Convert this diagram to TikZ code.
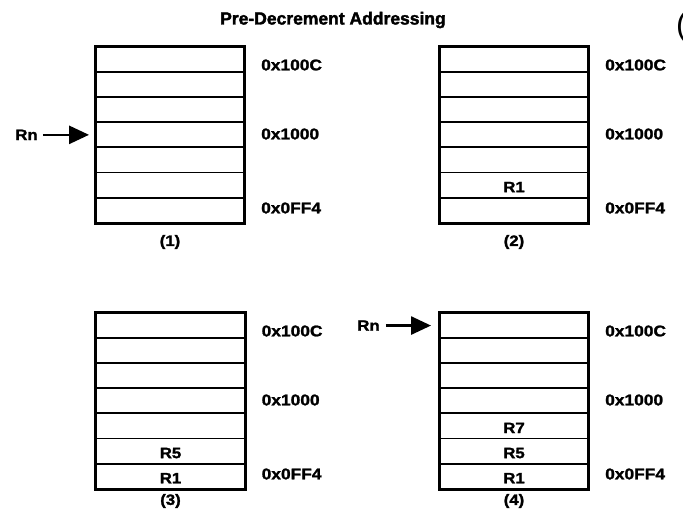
\documentclass[tikz,border=0pt]{standalone}
\usepackage{fontspec}
\setmainfont{Liberation Sans}
\newfontfamily\labfont[FakeStretch=1.12,FakeBold=1.6]{Liberation Sans Bold}
\newfontfamily\headfont[FakeBold=2]{Liberation Sans Bold}
\usetikzlibrary{arrows.meta}

\begin{document}
\begin{tikzpicture}[x=1pt,y=-1pt,
    cell/.style={draw, line width=1.9pt, minimum width=148pt, minimum height=25.1pt,
                 inner sep=0pt},
    frame/.style={draw, line width=2.7pt},
    word/.style={inner sep=0pt, font=\labfont\fontsize{15}{15}\selectfont},
    addr/.style={anchor=west, inner sep=0pt, font=\labfont\fontsize{15.5}{15.5}\selectfont},
    caption/.style={inner sep=0pt, font=\labfont\fontsize{15}{15}\selectfont},
    ptrlabel/.style={inner sep=0pt, font=\labfont\fontsize{15}{15}\selectfont},
    ptr/.style={line width=2.7pt, -{Triangle[length=20pt,width=18pt]}}]

\useasboundingbox (0,0) rectangle (683,520);

% heading
\node[inner sep=0pt, font=\headfont\fontsize{17.5}{17.5}\selectfont] (title) at (333,20) {Pre-Decrement Addressing};
\node[anchor=base west, inner sep=0pt, font=\fontsize{32}{32}\selectfont] (edge) at (676,35.4) {(};

% a stack of seven memory words: #1 name prefix, #2 left x, #3 top y
\newcommand\memstack[3]{%
  \foreach \i in {1,...,7}{
    \node[cell] (#1r\i) at ({#2+74},{#3+(\i-0.5)*25.1}) {};
  }
  \draw[frame] (#1r1.north west) rectangle (#1r7.south east);
  \node[addr] (#1a1) at ({#2+165},{#3+18}) {0x100C};
  \node[addr] (#1a2) at ({#2+165},{#3+87}) {0x1000};
  \node[addr] (#1a3) at ({#2+165},{#3+161}) {0x0FF4};
}

\memstack{p1}{96}{47}
\memstack{p2}{440}{47}
\memstack{p3}{96.5}{313}
\memstack{p4}{440}{313}

% stored registers
\node[word] (p2v6) at ([yshift=-2pt]p2r6) {R1};
\node[word] (p3v6) at ([yshift=-2pt]p3r6) {R5};
\node[word] (p3v7) at ([yshift=-2pt]p3r7) {R1};
\node[word] (p4v5) at ([yshift=-2pt]p4r5) {R7};
\node[word] (p4v6) at ([yshift=-2pt]p4r6) {R5};
\node[word] (p4v7) at ([yshift=-2pt]p4r7) {R1};

% step captions
\node[caption] (c1) at (170,242) {(1)};
\node[caption] (c2) at (514,242) {(2)};
\node[caption] (c3) at (170.5,501) {(3)};
\node[caption] (c4) at (514,501) {(4)};

% base register pointers
\node[ptrlabel] (rn1) at (26.5,0 |- p1r4) {Rn};
\draw[ptr, shorten <=5pt, shorten >=6pt] (rn1.east) -- (p1r4.west);
\node[ptrlabel] (rn4) at (368.5,0 |- p4r1) {Rn};
\draw[ptr, shorten <=6pt, shorten >=8pt] (rn4.east) -- (p4r1.west);

\end{tikzpicture}
\end{document}
